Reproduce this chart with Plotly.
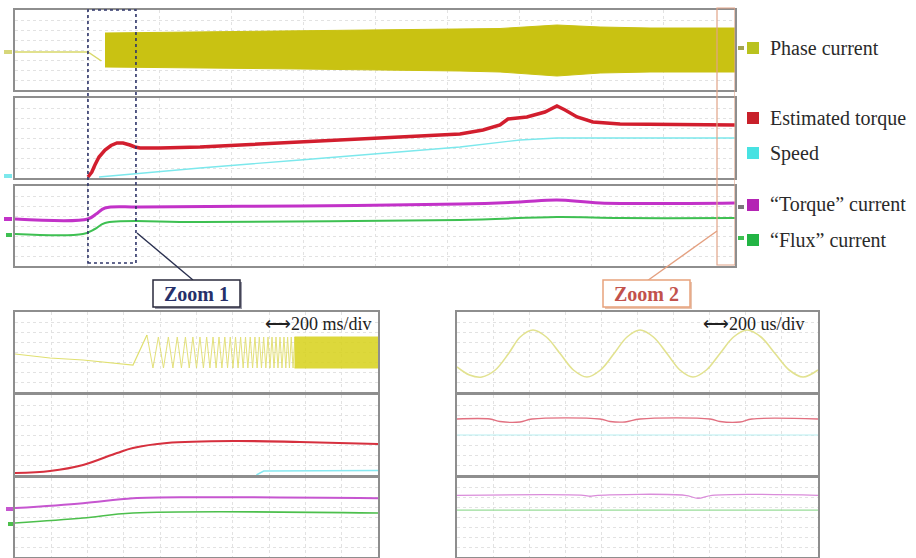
import plotly.graph_objects as go

FIG_W, FIG_H = 916, 558
SERIF = "Liberation Serif"


def px_x(v):
    return v / FIG_W


def px_y(v):
    return 1 - v / FIG_H


# ---------------- Overview record (time in s, amplitude in divisions) ----------------
phase_pre_t = [0.0, 3.04, 3.6]
phase_pre_v = [-0.2, -0.2, -1.1]
phase_env_t = [3.75, 7.71, 11.88, 18.54, 20.21, 22.58, 24.38, 26.46, 30.0]
phase_env_hi = [1.7, 1.8, 1.9, 2.05, 2.15, 2.5, 2.3, 2.2, 2.2]
phase_env_lo = [-1.7, -1.8, -1.9, -2.1, -2.2, -2.6, -2.3, -2.2, -2.2]

torque_t = [3.04, 3.2, 3.33, 3.5, 3.75, 4.0, 4.25, 4.5, 4.79, 5.0, 5.21, 6.04,
            7.71, 11.88, 16.04, 18.54, 19.5, 20.21, 20.54, 21.33, 22.08, 22.58,
            22.92, 23.42, 24.08, 25.21, 30.0]
torque_v = [-3.9, -3.4, -2.7, -1.9, -1.2, -0.75, -0.5, -0.5, -0.7, -0.9, -1.0, -1.0,
            -0.9, -0.4, 0.1, 0.4, 0.8, 1.3, 1.9, 2.1, 2.6, 3.2,
            2.8, 2.1, 1.6, 1.4, 1.3]

speed_t = [3.5, 7.71, 11.88, 16.04, 18.54, 21.04, 22.58, 30.0]
speed_v = [-3.9, -3.0, -2.2, -1.4, -0.9, -0.2, 0.0, 0.0]

iq_t = [0.0, 3.04, 3.38, 3.75, 5.21, 11.88, 18.54, 21.04, 22.58, 24.38, 30.0]
iq_v = [0.7, 0.7, 1.2, 1.8, 1.9, 2.0, 2.2, 2.4, 2.6, 2.3, 2.3]

id_t = [0.0, 2.83, 3.33, 3.75, 7.71, 18.54, 22.58, 25.21, 30.0]
id_v = [-0.8, -0.8, -0.3, 0.3, 0.4, 0.6, 0.9, 0.8, 0.8]

zoom1_window_s = [3.04, 5.04]
zoom2_window_s = [29.25, 30.0]

# ---------------- Zoom 1 record (time in ms, 200 ms/div) ----------------
z1_phase_t = [0, 193, 375, 650, 727]
z1_phase_v = [-0.2, -0.6, -0.8, -1.3, 1.7]
z1_osc_t = [760, 790, 818, 845, 870, 894, 917, 939, 960, 980, 1000, 1019,
            1038, 1056, 1074, 1091, 1108, 1124, 1140, 1156, 1171, 1186, 1201,
            1215, 1229, 1243, 1257, 1270, 1283, 1296, 1309, 1322, 1334, 1346,
            1358, 1370, 1382, 1394, 1405, 1416, 1427, 1438, 1449, 1460, 1471,
            1482, 1492, 1502, 1512, 1522, 1532, 1542]
z1_osc_v = [-1.6, 1.5, -1.6, 1.5, -1.6, 1.5, -1.6, 1.5, -1.6, 1.5, -1.6, 1.5,
            -1.6, 1.5, -1.6, 1.5, -1.6, 1.5, -1.6, 1.5, -1.6, 1.5, -1.6,
            1.5, -1.6, 1.5, -1.6, 1.5, -1.6, 1.5, -1.6, 1.5, -1.6, 1.5,
            -1.6, 1.5, -1.6, 1.5, -1.6, 1.5, -1.6, 1.5, -1.6, 1.5, -1.6,
            1.5, -1.6, 1.5, -1.6, 1.5, -1.6, 1.5]
z1_dense_t = [1540, 2000]
z1_dense_hi = [1.5, 1.5]
z1_dense_lo = [-1.6, -1.6]

z1_torque_t = [0, 193, 375, 562, 650, 837, 1201, 1570, 2000]
z1_torque_v = [-3.8, -3.6, -3.0, -1.8, -1.3, -0.8, -0.6, -0.7, -0.9]
z1_speed_t = [1330, 1370, 2000]
z1_speed_v = [-4.0, -3.6, -3.55]
z1_iq_t = [0, 375, 650, 1000, 2000]
z1_iq_v = [0.95, 1.45, 1.95, 2.05, 1.95]
z1_id_t = [0, 375, 650, 2000]
z1_id_v = [-0.55, -0.05, 0.45, 0.45]

# ---------------- Zoom 2 record (time in us, 200 us/div) ----------------
z2_phase_t = [0, 69, 138, 212, 286, 350, 421, 495, 571, 645, 720, 795, 870,
              942, 1014, 1088, 1163, 1235, 1307, 1382, 1457, 1532, 1607, 1684,
              1762, 1840, 1917, 2000]
z2_phase_v = [-1.5, -2.3, -2.5, -1.8, -0.15, 1.5, 2.2, 1.5, -0.15, -1.8, -2.5,
              -1.8, -0.15, 1.5, 2.2, 1.5, -0.15, -1.8, -2.5, -1.8, -0.15, 1.5,
              2.2, 1.5, -0.15, -1.8, -2.5, -1.8]
z2_torque_t = [0, 183, 238, 349, 416, 792, 848, 931, 1014, 1402, 1457, 1568,
               1634, 2000]
z2_torque_v = [1.6, 1.6, 1.35, 1.3, 1.6, 1.6, 1.35, 1.3, 1.6, 1.6, 1.35, 1.3,
               1.6, 1.6]
z2_speed_t = [0, 2000]
z2_speed_v = [0.0, 0.0]
z2_iq_t = [0, 700, 737, 780, 1263, 1335, 1413, 2000]
z2_iq_v = [2.25, 2.25, 2.15, 2.25, 2.25, 1.95, 2.25, 2.25]
z2_id_t = [0, 2000]
z2_id_v = [0.75, 0.75]

legend_items = [
    ("Phase current", "#b9c21e", 48),
    ("Estimated torque", "#c8202a", 118),
    ("Speed", "#48e2e2", 153),
    ("\u201cTorque\u201d current", "#b424b4", 205),
    ("\u201cFlux\u201d current", "#22b444", 240),
]

fig = go.Figure()

# Panel frames (pixel boxes) and their time ranges
panels = [
    # id, x0, x1, y0, y1, x-range, dtick
    (1, 15, 735, 10, 90, [0, 30], 3),
    (2, 15, 735, 98, 178, [0, 30], 3),
    (3, 15, 735, 186, 266, [0, 30], 3),
    (4, 15, 378, 312, 392, [0, 2000], 200),
    (5, 15, 378, 395, 475, [0, 2000], 200),
    (6, 15, 378, 478, 557, [0, 2000], 200),
    (7, 457, 818, 312, 392, [0, 2000], 200),
    (8, 457, 818, 395, 475, [0, 2000], 200),
    (9, 457, 818, 478, 557, [0, 2000], 200),
]

layout_axes = {}
for pid, x0, x1, y0, y1, xr, dt in panels:
    sfx = "" if pid == 1 else str(pid)
    common = dict(showticklabels=False, ticks="", showline=True, mirror=True,
                  linecolor="#8e8e8e", linewidth=2, showgrid=True,
                  gridcolor="#e2e2e2", griddash="dot", gridwidth=1,
                  zeroline=False, fixedrange=True)
    layout_axes["xaxis" + sfx] = dict(domain=[px_x(x0), px_x(x1)], range=xr,
                                      dtick=dt, anchor="y" + sfx, **common)
    layout_axes["yaxis" + sfx] = dict(domain=[px_y(y1), px_y(y0)], range=[-4, 4],
                                      dtick=1, anchor="x" + sfx, **common)


def add_line(x, y, color, width, pid, shape="linear", opacity=1.0):
    sfx = "" if pid == 1 else str(pid)
    fig.add_trace(go.Scatter(x=x, y=y, mode="lines",
                             line=dict(color=color, width=width, shape=shape),
                             opacity=opacity, xaxis="x" + sfx, yaxis="y" + sfx,
                             showlegend=False, hoverinfo="skip"))


def add_band(t, hi, lo, color, pid, opacity=1.0):
    sfx = "" if pid == 1 else str(pid)
    fig.add_trace(go.Scatter(x=list(t) + list(t)[::-1], y=list(hi) + list(lo)[::-1],
                             mode="lines", fill="toself", fillcolor=color,
                             line=dict(color=color, width=1), opacity=opacity,
                             xaxis="x" + sfx, yaxis="y" + sfx,
                             showlegend=False, hoverinfo="skip"))


# Overview traces
add_line(phase_pre_t, phase_pre_v, "#d8d86a", 1.5, 1)
add_band(phase_env_t, phase_env_hi, phase_env_lo, "#c9c212", 1)
add_line(speed_t, speed_v, "#7ce8ec", 1.3, 2)
add_line(torque_t, torque_v, "#d21e2e", 3.5, 2)
add_line(id_t, id_v, "#3ec052", 2, 3, shape="spline")
add_line(iq_t, iq_v, "#c232c8", 3, 3, shape="spline")

# Zoom 1 traces
add_line(z1_phase_t, z1_phase_v, "#e0e070", 1.2, 4)
add_line([z1_phase_t[-1]] + z1_osc_t, [z1_phase_v[-1]] + z1_osc_v, "#dcd850", 1, 4,
         opacity=0.75)
add_band(z1_dense_t, z1_dense_hi, z1_dense_lo, "#d8d21a", 4, opacity=0.85)
add_line(z1_speed_t, z1_speed_v, "#86e8f0", 1.5, 5)
add_line(z1_torque_t, z1_torque_v, "#d6303e", 2.2, 5, shape="spline")
add_line(z1_id_t, z1_id_v, "#4cbf4c", 1.6, 6, shape="spline")
add_line(z1_iq_t, z1_iq_v, "#c656d0", 2, 6, shape="spline")

# Zoom 2 traces
add_line(z2_phase_t, z2_phase_v, "#e2e290", 1.6, 7, shape="spline")
add_line(z2_speed_t, z2_speed_v, "#b8f0f2", 1.2, 8)
add_line(z2_torque_t, z2_torque_v, "#e27080", 1.3, 8, shape="spline")
add_line(z2_id_t, z2_id_v, "#98dc98", 1.2, 9)
add_line(z2_iq_t, z2_iq_v, "#da8cda", 1.3, 9, shape="spline")

shapes = []
annotations = []

# Zoom windows marked on the overview
shapes.append(dict(type="rect", xref="x", yref="paper",
                   x0=zoom1_window_s[0], x1=zoom1_window_s[1],
                   y0=px_y(263), y1=px_y(10),
                   line=dict(color="#2e3468", width=1.6, dash="dot"), layer="above"))
shapes.append(dict(type="rect", xref="x", yref="paper",
                   x0=zoom2_window_s[0], x1=zoom2_window_s[1],
                   y0=px_y(265), y1=px_y(8),
                   line=dict(color="#e2a488", width=1.2), layer="above"))

# Connectors to the zoom labels
shapes.append(dict(type="line", xref="paper", yref="paper",
                   x0=px_x(137), y0=px_y(233), x1=px_x(193), y1=px_y(280),
                   line=dict(color="#2a3050", width=1.4)))
shapes.append(dict(type="line", xref="paper", yref="paper",
                   x0=px_x(717), y0=px_y(231), x1=px_x(647), y1=px_y(281),
                   line=dict(color="#e4a080", width=1.4)))

# Zoom label boxes (with a faint drop shadow)
for (bx0, bx1, by0, by1, border, shadow, text, tcolor) in [
    (153, 240, 280, 307, "#2a2a3c", "#9a9aa8", "Zoom 1", "#26306a"),
    (603, 690, 280, 307, "#e8a27c", "#e8c4b0", "Zoom 2", "#c2524c"),
]:
    shapes.append(dict(type="rect", xref="paper", yref="paper",
                       x0=px_x(bx0 + 2), x1=px_x(bx1 + 2), y0=px_y(by1 + 2), y1=px_y(by0 + 2),
                       fillcolor=shadow, line=dict(width=0), layer="below"))
    shapes.append(dict(type="rect", xref="paper", yref="paper",
                       x0=px_x(bx0), x1=px_x(bx1), y0=px_y(by1), y1=px_y(by0),
                       fillcolor="white", line=dict(color=border, width=1.5)))
    annotations.append(dict(xref="paper", yref="paper", x=px_x((bx0 + bx1) / 2),
                            y=px_y((by0 + by1) / 2), text="<b>%s</b>" % text,
                            showarrow=False, xanchor="center", yanchor="middle",
                            font=dict(family=SERIF, size=20, color=tcolor)))

# Time-base labels
annotations.append(dict(xref="x4 domain", yref="y4 domain", x=0.99, y=1.0,
                        text="\u27f7200 ms/div", showarrow=False,
                        xanchor="right", yanchor="top",
                        font=dict(family=SERIF, size=18, color="#222222")))
annotations.append(dict(xref="x7 domain", yref="y7 domain", x=0.97, y=1.0,
                        text="\u27f7200 us/div", showarrow=False,
                        xanchor="right", yanchor="top",
                        font=dict(family=SERIF, size=18, color="#222222")))

# Channel legend on the right
for label, color, ypx in legend_items:
    shapes.append(dict(type="rect", xref="paper", yref="paper",
                       x0=px_x(747), x1=px_x(759), y0=px_y(ypx + 6), y1=px_y(ypx - 6),
                       fillcolor=color, line=dict(width=0)))
    annotations.append(dict(xref="paper", yref="paper", x=px_x(768), y=px_y(ypx),
                            text=label, showarrow=False, xanchor="left",
                            yanchor="middle",
                            font=dict(family=SERIF, size=20, color="#2a2a2a")))

# Small channel offset markers beside the overview
for (mx0, mx1, my, color) in [
    (4, 12, 52, "#d6d67a"), (4, 12, 176, "#7ce8ec"),
    (4, 12, 219, "#c232c8"), (6, 12, 235, "#3ec052"),
    (738, 744, 48, "#a4a450"), (738, 744, 207, "#7a7a7a"), (738, 744, 238, "#3ec052"),
    (6, 13, 509, "#c656d0"), (8, 13, 524, "#4cbf4c"),
]:
    shapes.append(dict(type="rect", xref="paper", yref="paper",
                       x0=px_x(mx0), x1=px_x(mx1), y0=px_y(my + 2), y1=px_y(my - 2),
                       fillcolor=color, line=dict(width=0)))

fig.update_layout(
    width=FIG_W, height=FIG_H,
    margin=dict(l=0, r=0, t=0, b=0),
    paper_bgcolor="white", plot_bgcolor="white",
    showlegend=False,
    shapes=shapes, annotations=annotations,
    **layout_axes,
)

fig.write_html("out.html")
